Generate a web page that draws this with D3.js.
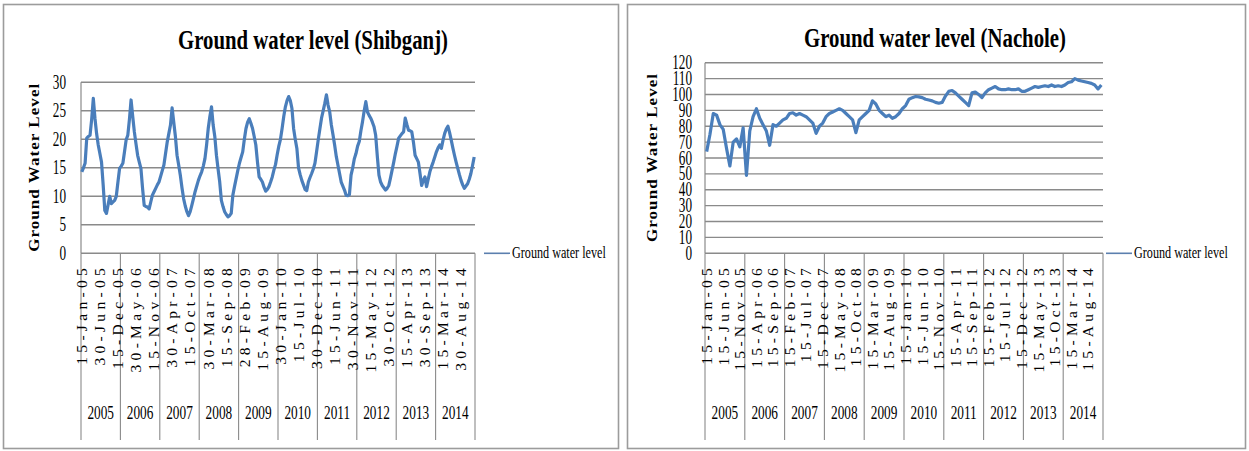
<!DOCTYPE html>
<html>
<head>
<meta charset="utf-8">
<script src="https://cdn.jsdelivr.net/npm/d3@7"></script>
<style>
  html, body { margin: 0; padding: 0; background: #fff; }
  svg { display: block; font-family: "Liberation Serif", "Times New Roman", serif; }
</style>
</head>
<body>
<svg id="chart" width="1249" height="451"></svg>
<script>
// Calendar years shown on the second level of both category axes
const years = ["2005", "2006", "2007", "2008", "2009", "2010", "2011", "2012", "2013", "2014"];

// Shibganj: twice-monthly readings (15th and end of month), 2005-2014
const shibganjLevels = [
  14.3, 15.0, 15.8, 20.2, 20.5, 20.7, 23.5, 27.2, 23.7, 21.0, 19.0, 17.5, 16.0, 12.0, 7.5, 7.0, 8.5, 10.0, 8.7, 9.0, 9.3, 10.0, 12.5, 14.9,
  15.3, 15.8, 17.8, 19.9, 20.7, 23.5, 26.9, 24.0, 21.3, 19.2, 17.2, 16.0, 14.9, 11.4, 8.4, 8.2, 8.1, 7.8, 9.0, 10.2, 10.8, 11.4, 12.0, 12.5,
  13.5, 14.5, 15.5, 17.5, 19.5, 21.0, 22.5, 25.5, 23.0, 20.5, 17.2, 15.5, 13.7, 11.5, 9.6, 8.3, 7.3, 6.6, 7.3, 8.4, 9.6, 10.8, 11.8, 12.8,
  13.6, 14.3, 15.3, 16.6, 19.0, 21.9, 24.0, 25.7, 22.5, 20.5, 17.2, 14.8, 12.5, 9.3, 8.2, 7.3, 6.8, 6.4, 6.6, 7.0, 10.2, 11.7, 13.1, 14.5,
  15.8, 16.8, 17.8, 20.0, 21.9, 23.0, 23.6, 22.8, 21.9, 20.5, 19.0, 16.0, 13.4, 13.0, 12.5, 11.6, 10.9, 11.2, 11.7, 12.5, 13.4, 14.6, 15.6, 17.3,
  18.8, 20.0, 21.9, 24.0, 25.7, 26.8, 27.5, 26.8, 25.4, 21.9, 20.0, 18.4, 15.0, 13.8, 12.8, 12.0, 11.2, 11.0, 12.5, 13.3, 14.0, 14.8, 15.8, 17.8,
  19.9, 21.8, 23.7, 25.0, 26.3, 27.8, 26.0, 24.8, 22.5, 20.8, 19.0, 17.0, 15.5, 14.0, 12.5, 11.8, 11.1, 10.2, 10.1, 10.3, 13.7, 15.0, 16.6, 17.5,
  18.8, 19.6, 21.5, 23.1, 25.0, 26.6, 24.8, 24.2, 23.7, 23.0, 22.2, 20.7, 17.0, 13.7, 12.5, 11.9, 11.5, 11.1, 11.4, 11.9, 13.2, 14.6, 16.0, 17.5,
  18.8, 20.2, 20.6, 21.0, 21.3, 23.7, 22.6, 21.6, 21.5, 21.3, 19.5, 17.2, 16.6, 16.0, 14.0, 11.9, 12.8, 13.4, 11.7, 13.0, 14.3, 15.2, 16.0, 16.9,
  17.8, 18.5, 19.0, 18.4, 19.8, 21.0, 21.8, 22.3, 21.2, 19.9, 18.5, 17.2, 16.0, 14.9, 13.8, 12.8, 12.0, 11.4, 11.8, 12.2, 13.0, 14.0, 15.4, 16.9
];

// Nachole: monthly readings (15th of each month), 2005-2014
const nacholeLevels = [
  64, 75, 88, 87, 81, 78, 66, 55, 70, 72, 67, 79,
  49, 77, 86, 91, 85, 81, 77, 68, 81, 80, 82, 84,
  85, 88, 88.5, 87, 88, 87, 86, 84, 82, 75.5, 80, 82,
  86, 88, 89, 90, 91, 90, 88, 86, 84, 76, 84, 86,
  88, 90, 96, 94, 90, 88, 86, 87, 85, 86, 88, 91,
  93, 97, 98, 98.7, 98.5, 98, 97, 96.5, 96, 95, 94.5, 95,
  99, 102, 102.5, 101, 99, 97, 95, 93, 101, 101.5, 100, 98,
  101, 103, 104, 105, 103.5, 103, 103, 103.5, 103, 103, 103.5, 102,
  102, 103, 104, 105, 104.5, 105, 105.5, 105, 106, 105, 105.5, 105,
  106, 107.5, 108, 110, 109, 108.5, 108, 107.5, 107, 106, 103.5, 106
];

// Category labels shown on the first level of each axis
const shibganjDateLabels = [
  "15-Jan-05", "30-Jun-05", "15-Dec-05", "30-May-06", "15-Nov-06", "30-Apr-07", "15-Oct-07", "30-Mar-08",
  "15-Sep-08", "28-Feb-09", "15-Aug-09", "30-Jan-10", "15-Jul-10", "30-Dec-10", "15-Jun-11", "30-Nov-11",
  "15-May-12", "30-Oct-12", "15-Apr-13", "30-Sep-13", "15-Mar-14", "30-Aug-14"
];
const nacholeDateLabels = [
  "15-Jan-05", "15-Jun-05", "15-Nov-05", "15-Apr-06", "15-Sep-06", "15-Feb-07", "15-Jul-07", "15-Dec-07",
  "15-May-08", "15-Oct-08", "15-Mar-09", "15-Aug-09", "15-Jan-10", "15-Jun-10", "15-Nov-10", "15-Apr-11",
  "15-Sep-11", "15-Feb-12", "15-Jul-12", "15-Dec-12", "15-May-13", "15-Oct-13", "15-Mar-14", "15-Aug-14"
];

// Value-axis ticks
const shibganjTicks = [0, 5, 10, 15, 20, 25, 30];
const nacholeTicks = [0, 10, 20, 30, 40, 50, 60, 70, 80, 90, 100, 110, 120];

const svg = d3.select("#chart");
const LINE_COLOR = "#4a7ebb";
const GRID_COLOR = "#8a8a8a";

// Horizontal text squeezed narrower than the font's natural width
function condensedText(parent, x, y, str, opts) {
  return parent.append("text")
    .attr("transform", `translate(${x},${y}) scale(${opts.sx},1)`)
    .attr("text-anchor", opts.anchor || "middle")
    .attr("font-size", opts.size)
    .attr("font-weight", opts.weight || "normal")
    .attr("fill", "#000")
    .text(str);
}

function drawChart(cfg) {
  const g = svg.append("g");

  // outer chart frame
  g.append("rect")
    .attr("x", cfg.frame.x).attr("y", cfg.frame.y)
    .attr("width", cfg.frame.w).attr("height", cfg.frame.h)
    .attr("fill", "#fff").attr("stroke", "#9c9c9c").attr("stroke-width", 1.6);

  const n = cfg.values.length;
  const perYear = n / cfg.years.length;
  const x = d3.scaleLinear().domain([0, n]).range([cfg.left, cfg.right]);
  const y = d3.scaleLinear().domain([0, d3.max(cfg.ticks)]).range([cfg.bottom, cfg.top]);

  // horizontal gridlines (the 0 line doubles as the category axis)
  g.append("g").selectAll("line").data(cfg.ticks).join("line")
    .attr("x1", cfg.left).attr("x2", cfg.right)
    .attr("y1", d => y(d)).attr("y2", d => y(d))
    .attr("stroke", GRID_COLOR).attr("stroke-width", 1.4);

  // value axis line
  g.append("line")
    .attr("x1", cfg.left).attr("x2", cfg.left)
    .attr("y1", y(d3.max(cfg.ticks))).attr("y2", y(0))
    .attr("stroke", GRID_COLOR).attr("stroke-width", 1.2);

  // year group separators below the axis
  g.append("g").selectAll("line").data(d3.range(cfg.years.length + 1)).join("line")
    .attr("x1", k => x(k * perYear)).attr("x2", k => x(k * perYear))
    .attr("y1", y(0)).attr("y2", cfg.sepBottom)
    .attr("stroke", GRID_COLOR).attr("stroke-width", 1.1);

  // value tick labels
  cfg.ticks.forEach(t => {
    condensedText(g, cfg.tickLabelX, y(t) + 6.5, String(t), { sx: 0.66, size: 20, anchor: "end" });
  });

  // rotated date labels
  g.append("g").selectAll("text").data(cfg.dateLabels).join("text")
    .attr("transform", (d, k) => `translate(${x(k * cfg.labelStep + 0.5)},${cfg.labelTop}) rotate(-90)`)
    .attr("text-anchor", "end")
    .attr("dy", "0.34em")
    .attr("font-size", 15.5)
    .attr("letter-spacing", 4.3)
    .attr("fill", "#000")
    .text(d => d);

  // year labels
  cfg.years.forEach((yr, k) => {
    condensedText(g, x((k + 0.5) * perYear), cfg.yearY, yr, { sx: 0.7, size: 19 });
  });

  // series line
  const line = d3.line()
    .x((d, i) => x(i + 0.5))
    .y(d => y(d));
  g.append("path")
    .datum(cfg.values)
    .attr("d", line)
    .attr("fill", "none")
    .attr("stroke", LINE_COLOR)
    .attr("stroke-width", 3.2)
    .attr("stroke-linejoin", "round");

  // chart title
  g.append("text")
    .attr("x", cfg.titleX).attr("y", cfg.titleY)
    .attr("text-anchor", "middle")
    .attr("font-size", 27).attr("font-weight", "bold")
    .attr("textLength", cfg.titleLen).attr("lengthAdjust", "spacingAndGlyphs")
    .text(cfg.title);

  // value axis title
  g.append("text")
    .attr("transform", `translate(${cfg.axisTitleX},${(cfg.top + cfg.bottom) / 2}) rotate(-90) scale(1,0.9)`)
    .attr("text-anchor", "middle")
    .attr("dy", "0.34em")
    .attr("font-size", 17).attr("font-weight", "bold")
    .attr("textLength", 168).attr("lengthAdjust", "spacing")
    .text("Ground  Water Level");

  // legend
  g.append("line")
    .attr("x1", cfg.legendX).attr("x2", cfg.legendX + 26)
    .attr("y1", y(0)).attr("y2", y(0))
    .attr("stroke", "#5b7fae").attr("stroke-width", 1.6);
  condensedText(g, cfg.legendX + 28, y(0) + 5, "Ground water level", { sx: 0.76, size: 16, anchor: "start" });
}

drawChart({
  frame: { x: 3.5, y: 4.5, w: 615, h: 444 },
  values: shibganjLevels, years, ticks: shibganjTicks,
  dateLabels: shibganjDateLabels, labelStep: 11,
  left: 81, right: 475, top: 82.3, bottom: 253.3,
  tickLabelX: 66, labelTop: 264, yearY: 419, sepBottom: 440,
  title: "Ground water level (Shibganj)", titleX: 313, titleY: 49, titleLen: 270,
  axisTitleX: 34, legendX: 484
});

drawChart({
  frame: { x: 627.5, y: 4.5, w: 618, h: 444 },
  values: nacholeLevels, years, ticks: nacholeTicks,
  dateLabels: nacholeDateLabels, labelStep: 5,
  left: 705, right: 1103, top: 62.7, bottom: 253.3,
  tickLabelX: 692, labelTop: 264, yearY: 419, sepBottom: 440,
  title: "Ground water level (Nachole)", titleX: 935, titleY: 47, titleLen: 262,
  axisTitleX: 652, legendX: 1106
});
</script>
</body>
</html>
